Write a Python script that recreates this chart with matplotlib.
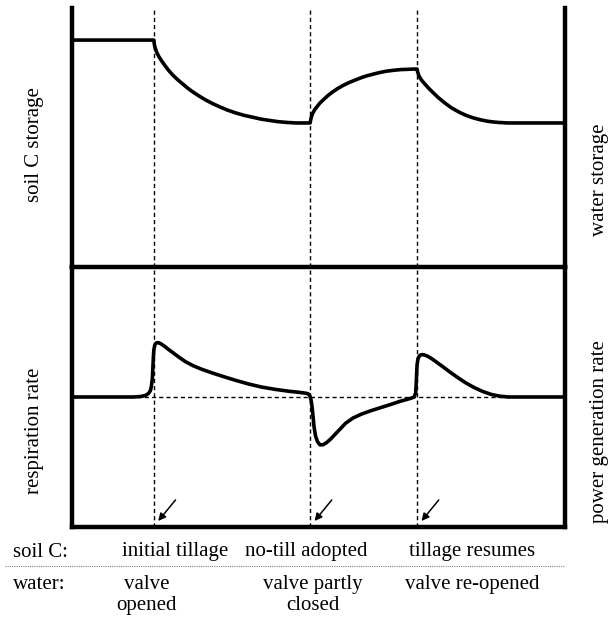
import matplotlib
matplotlib.use("Agg")
import matplotlib.pyplot as plt
from matplotlib.lines import Line2D

plt.rcParams['font.family'] = ['Liberation Serif', 'DejaVu Serif']
plt.rcParams['font.size'] = 15

# event times (x axis runs 0..100)
events = [16.6, 48.3, 70.0]

# soil C / water storage (top panel)
storage_t = [0, 16.6, 16.7, 16.9, 17.2, 17.6, 18.1, 18.8, 19.6, 20.5, 21.5, 22.5,
             23.5, 24.5, 25.7, 27.0, 28.5, 30.0, 31.5, 33.0, 34.8, 36.7, 38.3, 40.0,
             41.8, 43.6, 45.5, 47.3, 48.3, 48.4, 48.6, 48.9, 49.3, 49.8, 50.3, 50.9,
             51.8, 52.8, 53.9, 55.0, 56.2, 57.5, 58.7, 59.8, 61.2, 62.5, 63.8, 65.1,
             66.6, 68.0, 69.2, 70.0, 70.1, 70.3, 70.6, 71.0, 71.6, 72.3, 73.2, 74.3,
             75.5, 77.0, 78.7, 80.1, 81.5, 82.9, 84.2, 85.4, 86.5, 87.5, 88.2, 100]
storage_y = [87.6, 87.6, 86.0, 84.4, 82.8, 81.3, 79.8, 77.9, 75.9, 74.0, 72.2, 70.6,
             69.0, 67.6, 66.1, 64.6, 63.1, 61.8, 60.6, 59.6, 58.6, 57.8, 57.1, 56.6,
             56.1, 55.8, 55.6, 55.6, 55.6, 56.7, 58.2, 59.6, 60.9, 62.1, 63.3, 64.4,
             66.0, 67.5, 68.9, 70.1, 71.2, 72.2, 73.1, 73.8, 74.5, 75.1, 75.6, 75.9,
             76.2, 76.3, 76.4, 76.4, 75.3, 74.2, 73.0, 71.9, 70.6, 69.1, 67.4, 65.4,
             63.5, 61.4, 59.6, 58.4, 57.5, 56.8, 56.3, 56.0, 55.8, 55.7, 55.6, 55.6]

# respiration / power generation rate (bottom panel)
rate_t = [0, 12.5, 14.0, 14.9, 15.5, 15.9, 16.1, 16.3, 16.4, 16.5, 16.6, 16.8,
          17.1, 17.5, 18.0, 18.7, 19.5, 20.5, 21.7, 23.0, 24.6, 26.4, 28.5, 30.8,
          33.2, 35.8, 38.5, 41.3, 44.0, 46.0, 47.2, 47.8, 48.1, 48.3, 48.5, 48.7,
          48.9, 49.1, 49.4, 49.8, 50.3, 50.9, 51.6, 52.4, 53.3, 54.3, 55.5, 57.0,
          58.7, 60.6, 62.6, 64.6, 66.5, 68.0, 68.9, 69.4, 69.7, 69.8, 69.9, 70.0,
          70.2, 70.5, 70.9, 71.4, 72.1, 73.0, 74.1, 75.4, 76.8, 78.3, 79.8, 81.5,
          83.2, 85.0, 86.8, 88.5, 100]
rate_y = [50.0, 50.0, 50.2, 50.6, 51.3, 52.4, 54.0, 57.0, 61.0, 65.0, 68.0, 70.0,
          70.8, 70.9, 70.5, 69.6, 68.4, 67.0, 65.3, 63.6, 62.0, 60.6, 59.2, 57.8,
          56.4, 55.0, 53.8, 52.9, 52.2, 51.8, 51.5, 51.3, 50.9, 50.2, 48.8, 46.2,
          42.5, 38.5, 35.0, 32.8, 31.6, 31.6, 32.4, 33.7, 35.5, 37.5, 39.9, 41.9,
          43.4, 44.7, 45.9, 47.1, 48.3, 49.1, 49.6, 50.0, 51.5, 54.5, 58.5, 62.5,
          64.8, 65.9, 66.3, 66.2, 65.7, 64.7, 63.2, 61.4, 59.4, 57.4, 55.5, 53.7,
          52.2, 51.0, 50.3, 50.0, 50.0]
rate_base = 50.0

soil_labels = ['initial tillage', 'no-till adopted', 'tillage resumes']
water_labels = ['valve\nopened', 'valve partly\nclosed', 'valve re-opened']
soil_label_x = [21.0, 47.6, 81.1]
water_label_x = [15.2, 48.9, 81.1]

fig = plt.figure(figsize=(6.11, 6.17), dpi=100)
ax1 = fig.add_axes([0.1178, 0.5673, 0.8069, 0.4198])
ax2 = fig.add_axes([0.1178, 0.1459, 0.8069, 0.4214])

for ax in (ax1, ax2):
    ax.patch.set_visible(False)
    ax.set_xlim(0, 100)
    ax.set_ylim(0, 100)
    ax.set_xticks([])
    ax.set_yticks([])
    ax.spines['top'].set_visible(False)
    for s in ('left', 'right', 'bottom'):
        ax.spines[s].set_linewidth(3.2)
    for e in events:
        ax.axvline(e, color='black', lw=1, ls=(0, (3, 2.2)), zorder=1)

ax1.plot(storage_t, storage_y, color='black', lw=2.6, solid_joinstyle='round', zorder=3)

ax2.axhline(rate_base, color='black', lw=1, ls=(0, (3, 2.2)), zorder=1)
ax2.plot(rate_t, rate_y, color='black', lw=2.6, solid_joinstyle='round', zorder=3)

# arrows pointing at the events
for e in events:
    ax2.annotate('', xy=(e + 0.9, 2.3), xytext=(e + 4.4, 10.4),
                 arrowprops=dict(arrowstyle='-|>', lw=1.1, color='black',
                                 mutation_scale=11, shrinkA=0, shrinkB=0))

for x, lab in zip(soil_label_x, soil_labels):
    ax2.text(x, -0.095, lab, ha='center', va='center',
             transform=ax2.get_xaxis_transform())
for x, lab in zip(water_label_x, water_labels):
    ax2.text(x, -0.185, lab, ha='center', va='top', linespacing=1.15,
             transform=ax2.get_xaxis_transform())

fig.text(0.021, 0.105, 'soil C:', ha='left', va='center')
fig.text(0.021, 0.053, 'water:', ha='left', va='center')
fig.add_artist(Line2D([0.008, 0.925], [0.0827, 0.0827], transform=fig.transFigure,
                      color='gray', lw=0.8, ls=(0, (1, 1))))

fig.text(0.057, 0.765, 'soil C storage', rotation=90, ha='center', va='center')
fig.text(0.057, 0.301, 'respiration rate', rotation=90, ha='center', va='center')
fig.text(0.981, 0.708, 'water storage', rotation=90, ha='center', va='center')
fig.text(0.981, 0.300, 'power generation rate', rotation=90, ha='center', va='center')

fig.savefig('out.png', dpi=100)
